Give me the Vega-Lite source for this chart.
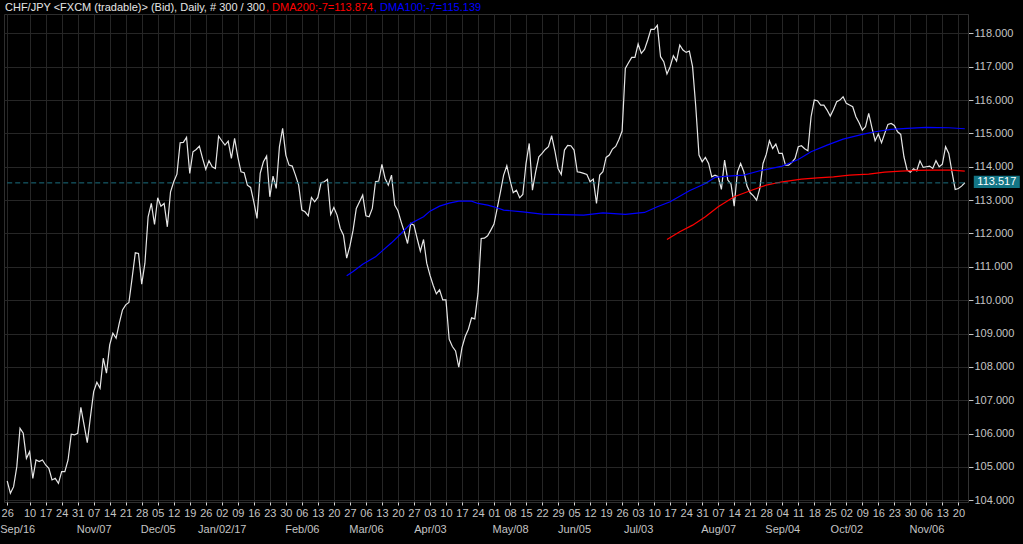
{
"$schema": "https://vega.github.io/schema/vega-lite/v6.json",
"width": 964, "height": 488,
"autosize": {"type": "none"},
"padding": {"left": 4, "top": 14, "right": 55, "bottom": 42},
"background": "#000000",
"config": {"view": {"stroke": "#2e2e2e", "strokeWidth": 1}, "font": "Liberation Sans", "legend": {"columnPadding": 0, "rowPadding": 0, "padding": 0}},
"datasets": {
"price": [
{"d":"2016-09-29","p":104.58},{"d":"2016-09-30","p":104.21},{"d":"2016-10-03","p":104.41},{"d":"2016-10-04","p":105.01},{"d":"2016-10-05","p":106.16},{"d":"2016-10-06","p":106.01},{"d":"2016-10-07","p":105.26},
{"d":"2016-10-10","p":105.46},{"d":"2016-10-11","p":104.66},{"d":"2016-10-12","p":105.21},{"d":"2016-10-13","p":105.16},{"d":"2016-10-14","p":105.21},
{"d":"2016-10-17","p":105.06},{"d":"2016-10-18","p":104.96},{"d":"2016-10-19","p":104.61},{"d":"2016-10-20","p":104.66},{"d":"2016-10-21","p":104.51},
{"d":"2016-10-24","p":104.86},{"d":"2016-10-25","p":104.86},{"d":"2016-10-26","p":105.21},{"d":"2016-10-27","p":105.98},{"d":"2016-10-28","p":105.96},
{"d":"2016-10-31","p":106.01},{"d":"2016-11-01","p":106.79},{"d":"2016-11-02","p":106.26},{"d":"2016-11-03","p":105.73},{"d":"2016-11-04","p":106.51},
{"d":"2016-11-07","p":107.26},{"d":"2016-11-08","p":107.54},{"d":"2016-11-09","p":107.36},{"d":"2016-11-10","p":108.26},{"d":"2016-11-11","p":107.81},
{"d":"2016-11-14","p":108.66},{"d":"2016-11-15","p":109.01},{"d":"2016-11-16","p":108.86},{"d":"2016-11-17","p":109.31},{"d":"2016-11-18","p":109.71},
{"d":"2016-11-21","p":109.86},{"d":"2016-11-22","p":109.93},{"d":"2016-11-23","p":110.66},{"d":"2016-11-24","p":111.42},{"d":"2016-11-25","p":111.40},
{"d":"2016-11-28","p":110.48},{"d":"2016-11-29","p":111.11},{"d":"2016-11-30","p":112.50},{"d":"2016-12-01","p":112.90},{"d":"2016-12-02","p":112.27},
{"d":"2016-12-05","p":113.07},{"d":"2016-12-06","p":112.82},{"d":"2016-12-07","p":112.90},{"d":"2016-12-08","p":112.20},{"d":"2016-12-09","p":113.25},
{"d":"2016-12-12","p":113.55},{"d":"2016-12-13","p":113.78},{"d":"2016-12-14","p":114.72},{"d":"2016-12-15","p":114.73},{"d":"2016-12-16","p":114.88},
{"d":"2016-12-19","p":113.80},{"d":"2016-12-20","p":114.45},{"d":"2016-12-21","p":114.52},{"d":"2016-12-22","p":114.62},{"d":"2016-12-23","p":114.25},
{"d":"2016-12-26","p":113.92},{"d":"2016-12-27","p":114.18},{"d":"2016-12-28","p":114.00},{"d":"2016-12-29","p":113.95},{"d":"2016-12-30","p":114.92},
{"d":"2017-01-02","p":114.78},{"d":"2017-01-03","p":114.65},{"d":"2017-01-04","p":114.77},{"d":"2017-01-05","p":114.25},{"d":"2017-01-06","p":114.85},
{"d":"2017-01-09","p":114.30},{"d":"2017-01-10","p":113.85},{"d":"2017-01-11","p":113.82},{"d":"2017-01-12","p":113.45},{"d":"2017-01-13","p":113.38},
{"d":"2017-01-16","p":112.95},{"d":"2017-01-17","p":112.45},{"d":"2017-01-18","p":113.80},{"d":"2017-01-19","p":114.15},{"d":"2017-01-20","p":114.32},
{"d":"2017-01-23","p":113.10},{"d":"2017-01-24","p":113.72},{"d":"2017-01-25","p":113.35},{"d":"2017-01-26","p":114.60},{"d":"2017-01-27","p":115.15},
{"d":"2017-01-30","p":114.35},{"d":"2017-01-31","p":114.05},{"d":"2017-02-01","p":114.02},{"d":"2017-02-02","p":113.75},{"d":"2017-02-03","p":113.45},
{"d":"2017-02-06","p":112.70},{"d":"2017-02-07","p":112.65},{"d":"2017-02-08","p":112.53},{"d":"2017-02-09","p":113.08},{"d":"2017-02-10","p":112.95},
{"d":"2017-02-13","p":113.08},{"d":"2017-02-14","p":113.52},{"d":"2017-02-15","p":113.55},{"d":"2017-02-16","p":113.62},{"d":"2017-02-17","p":112.57},
{"d":"2017-02-20","p":112.78},{"d":"2017-02-21","p":112.55},{"d":"2017-02-22","p":112.15},{"d":"2017-02-23","p":111.95},{"d":"2017-02-24","p":111.26},
{"d":"2017-02-27","p":111.62},{"d":"2017-02-28","p":112.10},{"d":"2017-03-01","p":112.75},{"d":"2017-03-02","p":112.95},{"d":"2017-03-03","p":113.15},
{"d":"2017-03-06","p":112.53},{"d":"2017-03-07","p":112.50},{"d":"2017-03-08","p":112.75},{"d":"2017-03-09","p":113.55},{"d":"2017-03-10","p":113.57},
{"d":"2017-03-13","p":114.07},{"d":"2017-03-14","p":113.65},{"d":"2017-03-15","p":113.45},{"d":"2017-03-16","p":113.75},{"d":"2017-03-17","p":112.85},
{"d":"2017-03-20","p":112.68},{"d":"2017-03-21","p":112.35},{"d":"2017-03-22","p":112.05},{"d":"2017-03-23","p":111.70},{"d":"2017-03-24","p":112.30},
{"d":"2017-03-27","p":112.25},{"d":"2017-03-28","p":111.85},{"d":"2017-03-29","p":111.47},{"d":"2017-03-30","p":111.82},{"d":"2017-03-31","p":111.11},
{"d":"2017-04-03","p":110.75},{"d":"2017-04-04","p":110.45},{"d":"2017-04-05","p":110.19},{"d":"2017-04-06","p":110.31},{"d":"2017-04-07","p":110.01},
{"d":"2017-04-10","p":110.01},{"d":"2017-04-11","p":108.83},{"d":"2017-04-12","p":108.61},{"d":"2017-04-13","p":108.48},{"d":"2017-04-14","p":107.99},
{"d":"2017-04-17","p":108.58},{"d":"2017-04-18","p":108.91},{"d":"2017-04-19","p":109.13},{"d":"2017-04-20","p":109.47},{"d":"2017-04-21","p":109.44},
{"d":"2017-04-24","p":110.21},{"d":"2017-04-25","p":111.85},{"d":"2017-04-26","p":111.86},{"d":"2017-04-27","p":111.93},{"d":"2017-04-28","p":112.10},
{"d":"2017-05-01","p":112.28},{"d":"2017-05-02","p":112.75},{"d":"2017-05-03","p":113.24},{"d":"2017-05-04","p":113.75},{"d":"2017-05-05","p":114.03},
{"d":"2017-05-08","p":113.60},{"d":"2017-05-09","p":113.22},{"d":"2017-05-10","p":113.30},{"d":"2017-05-11","p":113.07},{"d":"2017-05-12","p":113.17},
{"d":"2017-05-15","p":114.10},{"d":"2017-05-16","p":114.70},{"d":"2017-05-17","p":113.30},{"d":"2017-05-18","p":113.85},{"d":"2017-05-19","p":114.30},
{"d":"2017-05-22","p":114.40},{"d":"2017-05-23","p":114.52},{"d":"2017-05-24","p":114.60},{"d":"2017-05-25","p":114.93},{"d":"2017-05-26","p":114.48},
{"d":"2017-05-29","p":113.95},{"d":"2017-05-30","p":113.77},{"d":"2017-05-31","p":114.50},{"d":"2017-06-01","p":114.64},{"d":"2017-06-02","p":114.63},
{"d":"2017-06-05","p":114.50},{"d":"2017-06-06","p":113.85},{"d":"2017-06-07","p":113.83},{"d":"2017-06-08","p":113.80},{"d":"2017-06-09","p":113.77},
{"d":"2017-06-12","p":113.55},{"d":"2017-06-13","p":113.63},{"d":"2017-06-14","p":112.90},{"d":"2017-06-15","p":113.75},{"d":"2017-06-16","p":113.85},
{"d":"2017-06-19","p":114.28},{"d":"2017-06-20","p":114.35},{"d":"2017-06-21","p":114.53},{"d":"2017-06-22","p":114.61},{"d":"2017-06-23","p":114.82},
{"d":"2017-06-26","p":115.07},{"d":"2017-06-27","p":116.95},{"d":"2017-06-28","p":117.12},{"d":"2017-06-29","p":117.28},{"d":"2017-06-30","p":117.28},
{"d":"2017-07-03","p":117.68},{"d":"2017-07-04","p":117.40},{"d":"2017-07-05","p":117.52},{"d":"2017-07-06","p":117.80},{"d":"2017-07-07","p":118.12},
{"d":"2017-07-10","p":118.12},{"d":"2017-07-11","p":118.24},{"d":"2017-07-12","p":117.30},{"d":"2017-07-13","p":117.15},{"d":"2017-07-14","p":116.78},
{"d":"2017-07-17","p":117.00},{"d":"2017-07-18","p":117.33},{"d":"2017-07-19","p":117.17},{"d":"2017-07-20","p":117.65},{"d":"2017-07-21","p":117.50},
{"d":"2017-07-24","p":117.43},{"d":"2017-07-25","p":117.47},{"d":"2017-07-26","p":117.00},{"d":"2017-07-27","p":115.80},{"d":"2017-07-28","p":114.35},
{"d":"2017-07-31","p":114.15},{"d":"2017-08-01","p":114.28},{"d":"2017-08-02","p":114.10},{"d":"2017-08-03","p":113.70},{"d":"2017-08-04","p":113.75},
{"d":"2017-08-07","p":113.70},{"d":"2017-08-08","p":113.32},{"d":"2017-08-09","p":114.20},{"d":"2017-08-10","p":113.60},{"d":"2017-08-11","p":113.48},
{"d":"2017-08-14","p":112.82},{"d":"2017-08-15","p":113.85},{"d":"2017-08-16","p":114.10},{"d":"2017-08-17","p":113.85},{"d":"2017-08-18","p":113.42},
{"d":"2017-08-21","p":113.22},{"d":"2017-08-22","p":113.13},{"d":"2017-08-23","p":113.00},{"d":"2017-08-24","p":113.35},{"d":"2017-08-25","p":114.10},
{"d":"2017-08-28","p":114.37},{"d":"2017-08-29","p":114.78},{"d":"2017-08-30","p":114.55},{"d":"2017-08-31","p":114.68},{"d":"2017-09-01","p":114.40},
{"d":"2017-09-04","p":114.40},{"d":"2017-09-05","p":114.05},{"d":"2017-09-06","p":114.05},{"d":"2017-09-07","p":114.13},{"d":"2017-09-08","p":114.25},
{"d":"2017-09-11","p":114.60},{"d":"2017-09-12","p":114.63},{"d":"2017-09-13","p":114.54},{"d":"2017-09-14","p":114.48},{"d":"2017-09-15","p":115.50},
{"d":"2017-09-18","p":116.00},{"d":"2017-09-19","p":115.98},{"d":"2017-09-20","p":115.85},{"d":"2017-09-21","p":115.85},{"d":"2017-09-22","p":115.70},
{"d":"2017-09-25","p":115.52},{"d":"2017-09-26","p":115.72},{"d":"2017-09-27","p":115.95},{"d":"2017-09-28","p":116.00},{"d":"2017-09-29","p":116.10},
{"d":"2017-10-02","p":115.90},{"d":"2017-10-03","p":115.85},{"d":"2017-10-04","p":115.80},{"d":"2017-10-05","p":115.50},{"d":"2017-10-06","p":115.32},
{"d":"2017-10-09","p":115.10},{"d":"2017-10-10","p":115.20},{"d":"2017-10-11","p":115.60},{"d":"2017-10-12","p":115.17},{"d":"2017-10-13","p":114.78},
{"d":"2017-10-16","p":114.98},{"d":"2017-10-17","p":114.72},{"d":"2017-10-18","p":115.00},{"d":"2017-10-19","p":115.27},{"d":"2017-10-20","p":115.30},
{"d":"2017-10-23","p":115.24},{"d":"2017-10-24","p":115.05},{"d":"2017-10-25","p":114.97},{"d":"2017-10-26","p":114.30},{"d":"2017-10-27","p":113.90},
{"d":"2017-10-30","p":113.84},{"d":"2017-10-31","p":113.94},{"d":"2017-11-01","p":113.88},{"d":"2017-11-02","p":114.18},{"d":"2017-11-03","p":113.98},
{"d":"2017-11-06","p":114.00},{"d":"2017-11-07","p":114.02},{"d":"2017-11-08","p":113.95},{"d":"2017-11-09","p":114.18},{"d":"2017-11-10","p":114.00},
{"d":"2017-11-13","p":114.08},{"d":"2017-11-14","p":114.60},{"d":"2017-11-15","p":114.40},{"d":"2017-11-16","p":113.85},{"d":"2017-11-17","p":113.32},
{"d":"2017-11-20","p":113.35},{"d":"2017-11-21","p":113.42},{"d":"2017-11-22","p":113.52}
],
"dma": [
{"d":"2017-02-24","s":"DMA100","v":110.73},{"d":"2017-02-28","s":"DMA100","v":110.86},{"d":"2017-03-03","s":"DMA100","v":111.08},{"d":"2017-03-09","s":"DMA100","v":111.30},
{"d":"2017-03-13","s":"DMA100","v":111.47},{"d":"2017-03-16","s":"DMA100","v":111.72},{"d":"2017-03-21","s":"DMA100","v":112.00},{"d":"2017-03-24","s":"DMA100","v":112.30},
{"d":"2017-03-30","s":"DMA100","v":112.50},{"d":"2017-04-03","s":"DMA100","v":112.67},{"d":"2017-04-06","s":"DMA100","v":112.82},{"d":"2017-04-11","s":"DMA100","v":112.91},
{"d":"2017-04-14","s":"DMA100","v":112.97},{"d":"2017-04-20","s":"DMA100","v":112.97},{"d":"2017-04-24","s":"DMA100","v":112.90},{"d":"2017-04-27","s":"DMA100","v":112.85},
{"d":"2017-05-01","s":"DMA100","v":112.80},{"d":"2017-05-04","s":"DMA100","v":112.70},{"d":"2017-05-12","s":"DMA100","v":112.65},{"d":"2017-05-22","s":"DMA100","v":112.58},
{"d":"2017-06-08","s":"DMA100","v":112.55},{"d":"2017-06-16","s":"DMA100","v":112.62},{"d":"2017-06-27","s":"DMA100","v":112.57},{"d":"2017-07-05","s":"DMA100","v":112.63},
{"d":"2017-07-11","s":"DMA100","v":112.80},{"d":"2017-07-17","s":"DMA100","v":112.95},{"d":"2017-07-25","s":"DMA100","v":113.28},{"d":"2017-08-01","s":"DMA100","v":113.50},
{"d":"2017-08-04","s":"DMA100","v":113.68},{"d":"2017-08-10","s":"DMA100","v":113.72},{"d":"2017-08-17","s":"DMA100","v":113.75},{"d":"2017-08-24","s":"DMA100","v":113.88},
{"d":"2017-09-04","s":"DMA100","v":114.02},{"d":"2017-09-11","s":"DMA100","v":114.22},{"d":"2017-09-15","s":"DMA100","v":114.45},{"d":"2017-09-22","s":"DMA100","v":114.65},
{"d":"2017-09-29","s":"DMA100","v":114.83},{"d":"2017-10-09","s":"DMA100","v":114.97},{"d":"2017-10-13","s":"DMA100","v":115.05},{"d":"2017-10-20","s":"DMA100","v":115.12},
{"d":"2017-10-27","s":"DMA100","v":115.15},{"d":"2017-11-06","s":"DMA100","v":115.18},{"d":"2017-11-15","s":"DMA100","v":115.17},{"d":"2017-11-22","s":"DMA100","v":115.14},
{"d":"2017-07-14","s":"DMA200","v":111.82},{"d":"2017-07-20","s":"DMA200","v":112.05},{"d":"2017-07-26","s":"DMA200","v":112.25},{"d":"2017-08-01","s":"DMA200","v":112.50},
{"d":"2017-08-07","s":"DMA200","v":112.80},{"d":"2017-08-14","s":"DMA200","v":113.10},{"d":"2017-08-21","s":"DMA200","v":113.28},{"d":"2017-08-28","s":"DMA200","v":113.45},
{"d":"2017-09-04","s":"DMA200","v":113.55},{"d":"2017-09-12","s":"DMA200","v":113.63},{"d":"2017-09-19","s":"DMA200","v":113.67},{"d":"2017-09-26","s":"DMA200","v":113.70},
{"d":"2017-10-03","s":"DMA200","v":113.75},{"d":"2017-10-11","s":"DMA200","v":113.78},{"d":"2017-10-18","s":"DMA200","v":113.84},{"d":"2017-10-25","s":"DMA200","v":113.87},
{"d":"2017-11-01","s":"DMA200","v":113.89},{"d":"2017-11-08","s":"DMA200","v":113.90},{"d":"2017-11-16","s":"DMA200","v":113.90},{"d":"2017-11-22","s":"DMA200","v":113.87}
],
"last": [{"d":"2017-11-22","p":113.517,"label":"113.517"}]
},
"resolve": {"axis": {"x": "independent", "y": "independent"}},
"layer": [
{
"data": {"name": "price"},
"mark": {"type": "line", "strokeWidth": 1.2},
"encoding": {
"x": {"field": "d", "type": "ordinal", "scale": {"type": "point", "padding": 1.885},
"axis": {"orient": "bottom", "title": null, "labelAngle": 0, "labelOverlap": false,
"values": ["2016-09-29","2016-10-10","2016-10-17","2016-10-24","2016-10-31","2016-11-07","2016-11-14","2016-11-21","2016-11-28","2016-12-05","2016-12-12","2016-12-19","2016-12-26","2017-01-02","2017-01-09","2017-01-16","2017-01-23","2017-01-30","2017-02-06","2017-02-13","2017-02-20","2017-02-27","2017-03-06","2017-03-13","2017-03-20","2017-03-27","2017-04-03","2017-04-10","2017-04-17","2017-04-24","2017-05-01","2017-05-08","2017-05-15","2017-05-22","2017-05-29","2017-06-05","2017-06-12","2017-06-19","2017-06-26","2017-07-03","2017-07-10","2017-07-17","2017-07-24","2017-07-31","2017-08-07","2017-08-14","2017-08-21","2017-08-28","2017-09-04","2017-09-11","2017-09-18","2017-09-25","2017-10-02","2017-10-09","2017-10-16","2017-10-23","2017-10-30","2017-11-06","2017-11-13","2017-11-20"],
"labelExpr": "datum.value == '2016-09-29' ? '26' : substring(datum.value, 8, 10)",
"grid": true, "gridColor": "#262626", "domain": false,
"ticks": true, "tickColor": "#d8d8d8", "tickSize": 3,
"labelColor": "#c4c4c4", "labelFont": "Liberation Sans", "labelFontSize": 11, "labelPadding": 2}},
"y": {"field": "p", "type": "quantitative", "scale": {"domain": [103.95, 118.58], "nice": false, "zero": false},
"axis": {"orient": "right", "title": null, "values": [104,105,106,107,108,109,110,111,112,113,114,115,116,117,118], "format": ".3f",
"grid": true, "gridColor": "#262626", "domain": true, "domainColor": "#333333",
"tickColor": "#c4c4c4", "tickSize": 5, "labelPadding": 1,
"labelColor": "#c4c4c4", "labelFont": "Liberation Sans", "labelFontSize": 11}},
"color": {"datum": "Price", "type": "nominal",
"scale": {"domain": ["Price", "DMA200", "DMA100"], "range": ["#e6e6e6", "#ff0000", "#0000ff"]},
"legend": {"orient": "none", "legendX": 1, "legendY": -12, "direction": "horizontal", "title": null,
"labelExpr": "datum.value == 'Price' ? 'CHF/JPY <FXCM (tradable)> (Bid), Daily, # 300 / 300' : datum.value == 'DMA200' ? ', DMA200;-7=113.874' : ', DMA100;-7=115.139'",
"labelFont": "Liberation Sans", "labelFontSize": 11, "labelLimit": 0, "labelOffset": -11,
"symbolSize": 0, "symbolStrokeWidth": 0, "symbolOpacity": 0, "columnPadding": 0, "padding": 0,
"encode": {"labels": {"update": {"fill": {"scale": "color", "field": "value"}}}}}}
}
},
{
"data": {"name": "dma"},
"mark": {"type": "line", "strokeWidth": 1.2},
"encoding": {
"x": {"field": "d", "type": "ordinal",
"axis": {"orient": "bottom", "title": null, "labelAngle": 0, "labelOverlap": false,
"values": ["2016-09-29","2016-11-07","2016-12-05","2017-01-02","2017-02-06","2017-03-06","2017-04-03","2017-05-08","2017-06-05","2017-07-03","2017-08-07","2017-09-04","2017-10-02","2017-11-06"],
"labelExpr": "datum.value == '2016-09-29' ? 'Sep/16' : datum.value == '2017-01-02' ? 'Jan/02/17' : utcFormat(toDate(datum.value), '%b/%d')",
"labelOffset": {"condition": {"test": "datum.value == '2016-09-29'", "value": 10}, "value": 0},
"grid": false, "domain": false, "ticks": false, "tickSize": 0,
"labelColor": "#c4c4c4", "labelFont": "Liberation Sans", "labelFontSize": 11, "labelPadding": 21}},
"y": {"field": "v", "type": "quantitative", "scale": {"domain": [103.95, 118.58], "nice": false, "zero": false}, "axis": null},
"color": {"field": "s", "type": "nominal",
"scale": {"domain": ["Price", "DMA200", "DMA100"], "range": ["#e6e6e6", "#ff0000", "#0000ff"]},
"legend": {"orient": "none", "legendX": 1, "legendY": -12, "direction": "horizontal", "title": null,
"labelExpr": "datum.value == 'Price' ? 'CHF/JPY <FXCM (tradable)> (Bid), Daily, # 300 / 300' : datum.value == 'DMA200' ? ', DMA200;-7=113.874' : ', DMA100;-7=115.139'",
"labelFont": "Liberation Sans", "labelFontSize": 11, "labelLimit": 0, "labelOffset": -11,
"symbolSize": 0, "symbolStrokeWidth": 0, "symbolOpacity": 0, "columnPadding": 0, "padding": 0,
"encode": {"labels": {"update": {"fill": {"scale": "color", "field": "value"}}}}}}
}
},
{
"data": {"name": "last"},
"mark": {"type": "rule", "color": "#1b6f80", "strokeDash": [5, 3], "strokeWidth": 1},
"encoding": {
"x": {"datum": "2016-09-29", "type": "ordinal", "axis": null},
"x2": {"datum": "2017-11-22"},
"y": {"field": "p", "type": "quantitative", "axis": null}
}
},
{
"data": {"name": "last"},
"mark": {"type": "point", "shape": "M-1,-0.27H1V0.27H-1Z", "size": 2116, "filled": true, "color": "#137585", "opacity": 1, "xOffset": 32, "yOffset": -1, "strokeWidth": 0},
"encoding": {
"x": {"field": "d", "type": "ordinal", "axis": null},
"y": {"field": "p", "type": "quantitative", "axis": null}
}
},
{
"data": {"name": "last"},
"mark": {"type": "text", "color": "#ffffff", "font": "Liberation Sans", "fontSize": 11, "dx": 32, "dy": -1, "align": "center", "baseline": "middle"},
"encoding": {
"x": {"field": "d", "type": "ordinal", "axis": null},
"y": {"field": "p", "type": "quantitative", "axis": null},
"text": {"field": "label"}
}
}
]
}
